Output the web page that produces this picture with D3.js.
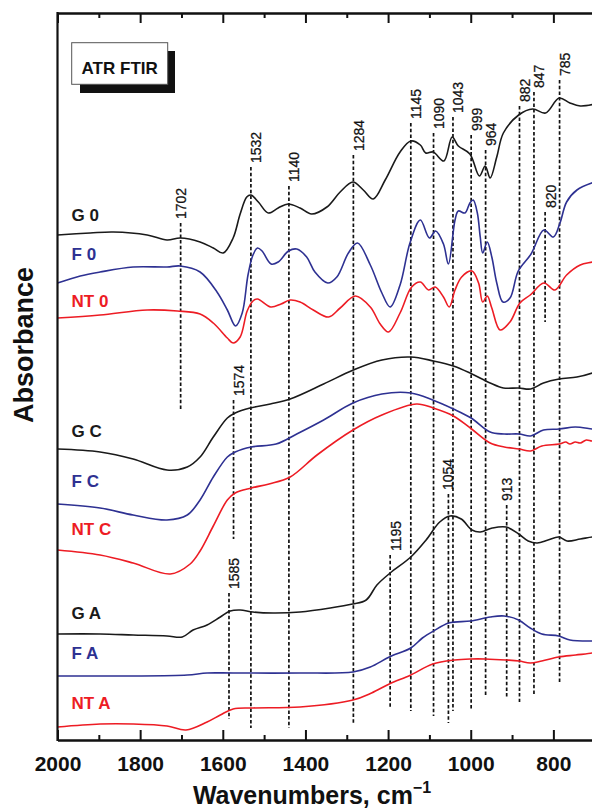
<!DOCTYPE html>
<html><head><meta charset="utf-8">
<script src="https://cdn.jsdelivr.net/npm/d3@7"></script>
<style>body{margin:0;background:#fff} svg{display:block}</style>
</head><body>
<svg id="chart" width="592" height="809"></svg>
<script>
// ---- data: [wavenumber (cm-1), absorbance (arbitrary, offset)] ----
const G0 = [[2000,5.05],[1921,5.07],[1865,5.08],[1783,5.05],[1735,5.00],[1703,5.02],[1655,4.98],[1623,4.92],[1599,4.87],[1575,5.02],[1558,5.26],[1542,5.43],[1532,5.45],[1514,5.38],[1490,5.27],[1466,5.32],[1442,5.36],[1413,5.32],[1385,5.26],[1348,5.33],[1316,5.48],[1285,5.58],[1260,5.50],[1236,5.41],[1207,5.60],[1171,5.88],[1145,5.99],[1122,5.95],[1109,5.87],[1091,5.88],[1065,5.79],[1045,6.03],[1030,5.94],[1002,5.86],[979,5.64],[965,5.74],[953,5.62],[937,5.83],[921,6.07],[884,6.25],[850,6.31],[819,6.27],[786,6.42],[760,6.37],[735,6.34],[700,6.36]];
const F0 = [[2000,4.57],[1945,4.64],[1897,4.68],[1817,4.73],[1735,4.73],[1703,4.74],[1655,4.68],[1614,4.48],[1589,4.30],[1569,4.14],[1553,4.27],[1539,4.65],[1527,4.85],[1516,4.92],[1505,4.89],[1483,4.76],[1466,4.78],[1441,4.89],[1421,4.91],[1397,4.83],[1377,4.68],[1346,4.57],[1324,4.63],[1296,4.87],[1274,4.97],[1243,4.75],[1215,4.47],[1195,4.33],[1171,4.55],[1147,4.97],[1122,5.20],[1100,5.02],[1085,5.09],[1066,4.96],[1054,4.76],[1038,5.20],[1030,5.29],[1014,5.27],[1002,5.37],[994,5.40],[984,5.27],[977,5.03],[971,4.87],[960,4.98],[949,4.83],[937,4.57],[922,4.38],[905,4.42],[885,4.69],[854,4.86],[823,5.10],[800,5.03],[784,5.17],[768,5.38],[743,5.50],[700,5.58]];
const NT0 = [[2000,4.22],[1897,4.25],[1783,4.30],[1710,4.29],[1655,4.26],[1623,4.17],[1589,4.02],[1575,3.97],[1558,4.03],[1541,4.29],[1527,4.39],[1516,4.41],[1484,4.33],[1459,4.36],[1437,4.40],[1413,4.38],[1381,4.30],[1344,4.23],[1316,4.32],[1279,4.44],[1243,4.33],[1219,4.16],[1199,4.08],[1171,4.27],[1143,4.53],[1122,4.58],[1102,4.50],[1086,4.53],[1066,4.43],[1052,4.33],[1038,4.50],[1022,4.63],[997,4.69],[981,4.57],[971,4.38],[960,4.44],[949,4.32],[929,4.10],[905,4.18],[881,4.37],[856,4.45],[823,4.57],[796,4.50],[768,4.65],[735,4.75],[706,4.78],[700,4.79]];
const GC = [[2000,2.91],[1897,2.88],[1817,2.81],[1735,2.70],[1686,2.73],[1655,2.83],[1623,3.03],[1589,3.22],[1570,3.27],[1534,3.32],[1485,3.36],[1437,3.41],[1356,3.56],[1284,3.70],[1215,3.80],[1145,3.83],[1090,3.79],[1042,3.74],[997,3.66],[953,3.57],[921,3.52],[884,3.52],[855,3.51],[824,3.57],[786,3.61],[743,3.63],[706,3.67],[700,3.68]];
const FC = [[2000,2.36],[1897,2.32],[1817,2.25],[1735,2.20],[1686,2.25],[1655,2.40],[1623,2.63],[1589,2.83],[1570,2.88],[1531,2.93],[1471,2.96],[1421,3.06],[1356,3.20],[1285,3.37],[1215,3.46],[1145,3.47],[1092,3.40],[1042,3.31],[999,3.22],[953,3.08],[919,3.06],[883,3.06],[855,3.04],[824,3.10],[786,3.11],[747,3.13],[706,3.11],[700,3.11]];
const NTC = [[2000,1.90],[1897,1.85],[1817,1.77],[1727,1.66],[1679,1.76],[1655,1.89],[1623,2.14],[1589,2.40],[1570,2.47],[1531,2.52],[1488,2.56],[1437,2.63],[1372,2.85],[1285,3.10],[1215,3.25],[1131,3.36],[1091,3.32],[1042,3.24],[998,3.11],[953,2.97],[919,2.93],[883,2.91],[855,2.89],[828,2.94],[786,2.96],[770,2.98],[760,2.96],[747,2.98],[735,2.97],[720,3.00],[706,2.99],[700,3.01]];
const GA = [[2000,1.06],[1897,1.06],[1817,1.05],[1735,1.04],[1698,1.03],[1672,1.10],[1638,1.15],[1606,1.23],[1582,1.29],[1558,1.30],[1527,1.28],[1478,1.27],[1413,1.28],[1340,1.32],[1286,1.36],[1253,1.40],[1227,1.55],[1195,1.67],[1145,1.83],[1108,2.00],[1075,2.18],[1050,2.24],[1023,2.21],[997,2.10],[977,2.08],[948,2.12],[914,2.13],[884,2.06],[861,1.99],[839,1.97],[813,2.00],[787,2.03],[767,1.99],[735,2.01],[706,2.03],[700,2.03]];
const FA = [[2000,0.64],[1897,0.64],[1817,0.64],[1686,0.65],[1638,0.67],[1575,0.67],[1413,0.67],[1285,0.68],[1243,0.73],[1197,0.83],[1145,0.92],[1117,1.02],[1090,1.09],[1053,1.17],[1000,1.19],[953,1.23],[919,1.24],[884,1.20],[856,1.12],[828,1.06],[787,1.04],[760,1.00],[706,0.99],[700,0.99]];
const NTA = [[2000,0.13],[1897,0.16],[1817,0.16],[1735,0.14],[1689,0.10],[1638,0.18],[1606,0.25],[1575,0.31],[1527,0.32],[1413,0.33],[1285,0.40],[1240,0.47],[1197,0.56],[1145,0.65],[1092,0.76],[1039,0.80],[1000,0.81],[965,0.81],[914,0.80],[883,0.79],[856,0.77],[828,0.79],[787,0.83],[746,0.85],[706,0.87],[700,0.88]];

const seriesNames = ["G 0","F 0","NT 0","G C","F C","NT C","G A","F A","NT A"];
const seriesData  = [G0, F0, NT0, GC, FC, NTC, GA, FA, NTA];
const labelLevels = [5.19, 4.80, 4.33, 3.03, 2.53, 2.05, 1.21, 0.81, 0.31];

// peak marker lines: label text, wavenumber, top / bottom (absorbance units)
const peakLabels = ["1702","1532","1140","1284","1145","1090","1043","999","964","882","847","785","820","1574","1585","1195","1054","913"];
const peakWn     = [1702,1532,1440,1284,1145,1090,1043,999,964,882,847,785,820,1574,1585,1195,1054,913];
const peakTop    = [5.17,5.73,5.54,5.85,6.17,6.07,6.23,6.05,5.90,6.34,6.48,6.60,5.28,3.40,1.47,1.85,2.46,2.35];
const peakBottom = [3.29,0.12,0.12,0.17,0.29,0.24,0.29,0.31,0.44,0.38,0.46,0.57,4.18,2.01,0.21,0.31,0.17,0.43];

const majorTicks = [2000,1800,1600,1400,1200,1000,800];
const minorTicks = [1900,1700,1500,1300,1100,900];

// ---- drawing ----
const FONT = "'Liberation Sans', Arial, Helvetica, sans-serif";
const colorOf = n => n.startsWith("G") ? "#1a1a1a" : n.startsWith("F") ? "#2e3192" : "#ed1c24";

const svg = d3.select("#chart");
const x = d3.scaleLinear().domain([2000, 700]).range([57.5, 594.7]);
const y = d3.scaleLinear().domain([0, 7.3]).range([740, 10]);

svg.append("defs").append("clipPath").attr("id","clip")
  .append("rect").attr("x",57.5).attr("y",13).attr("width",540).attr("height",727);

// dashed peak lines
const peaks = peakLabels.map((l,i)=>({label:l, wn:peakWn[i], top:peakTop[i], bottom:peakBottom[i]}));
const centered = new Set(["1702","1054","913"]);
const pg = svg.append("g");
pg.selectAll("line").data(peaks).join("line")
  .attr("x1", d=>x(d.wn)).attr("x2", d=>x(d.wn))
  .attr("y1", d=>y(d.top)).attr("y2", d=>y(d.bottom))
  .attr("stroke","#111").attr("stroke-width",1.7).attr("stroke-dasharray","3.5,2.2");
pg.selectAll("text").data(peaks).join("text")
  .attr("transform", d=>`translate(${x(d.wn) + (centered.has(d.label)?5:10.5)},${y(d.top)-4}) rotate(-90)`)
  .attr("font-family",FONT).attr("font-size",14).attr("fill","#111")
  .attr("stroke","#111").attr("stroke-width",0.25)
  .text(d=>d.label);

// spectra
const line = d3.line().x(d=>x(d[0])).y(d=>y(d[1])).curve(d3.curveCatmullRom.alpha(0.5));
const cg = svg.append("g").attr("clip-path","url(#clip)");
seriesData.forEach((s,i)=>{
  cg.append("path").attr("d", line(s)).attr("fill","none")
    .attr("stroke", colorOf(seriesNames[i])).attr("stroke-width",1.6).attr("stroke-linejoin","round");
});

// series labels
svg.append("g").selectAll("text").data(seriesNames).join("text")
  .attr("x", x(1966)).attr("y",(d,i)=>y(labelLevels[i]))
  .attr("font-family",FONT).attr("font-weight","bold").attr("font-size",17)
  .attr("fill", d=>colorOf(d)).text(d=>d);

// axes
const bottom = svg.append("g").attr("transform","translate(0,740)")
  .call(d3.axisBottom(x).tickValues(majorTicks).tickSizeInner(-10).tickSizeOuter(0).tickPadding(16).tickFormat(d3.format("d")));
svg.append("g").attr("transform","translate(0,740)")
  .call(d3.axisBottom(x).tickValues(minorTicks).tickSizeInner(-5).tickSizeOuter(0).tickFormat(""));
svg.append("g").attr("transform","translate(0,13)")
  .call(d3.axisTop(x).tickValues(majorTicks).tickSizeInner(-10).tickSizeOuter(0).tickFormat(""));
svg.append("g").attr("transform","translate(0,13)")
  .call(d3.axisTop(x).tickValues(minorTicks).tickSizeInner(-5).tickSizeOuter(0).tickFormat(""));
svg.selectAll(".domain, .tick line").attr("stroke","#111").attr("stroke-width",2);
bottom.selectAll("text").attr("font-family",FONT).attr("font-weight","bold").attr("font-size",21).attr("fill","#111");
svg.append("line").attr("x1",57.5).attr("x2",57.5).attr("y1",12).attr("y2",741)
  .attr("stroke","#111").attr("stroke-width",2.2);

// axis titles
const xt = svg.append("text").attr("x",312).attr("y",804).attr("text-anchor","middle")
  .attr("font-family",FONT).attr("font-weight","bold").attr("font-size",25).attr("fill","#111");
xt.append("tspan").text("Wavenumbers, cm");
xt.append("tspan").attr("dy",-11).attr("font-size",16).text("\u22121");

svg.append("text").attr("transform","translate(33,345) rotate(-90)").attr("text-anchor","middle")
  .attr("font-family",FONT).attr("font-weight","bold").attr("font-size",27).attr("fill","#111")
  .text("Absorbance");

// ATR FTIR box
svg.append("rect").attr("x",80).attr("y",51).attr("width",95).attr("height",42).attr("fill","#111");
svg.append("rect").attr("x",71.7).attr("y",42.7).attr("width",96).attr("height",41.6)
  .attr("fill","#fff").attr("stroke","#555").attr("stroke-width",1);
svg.append("text").attr("x",119.7).attr("y",73.5).attr("text-anchor","middle")
  .attr("font-family",FONT).attr("font-weight","bold").attr("font-size",17).attr("fill","#111")
  .text("ATR FTIR");
</script>
</body></html>
